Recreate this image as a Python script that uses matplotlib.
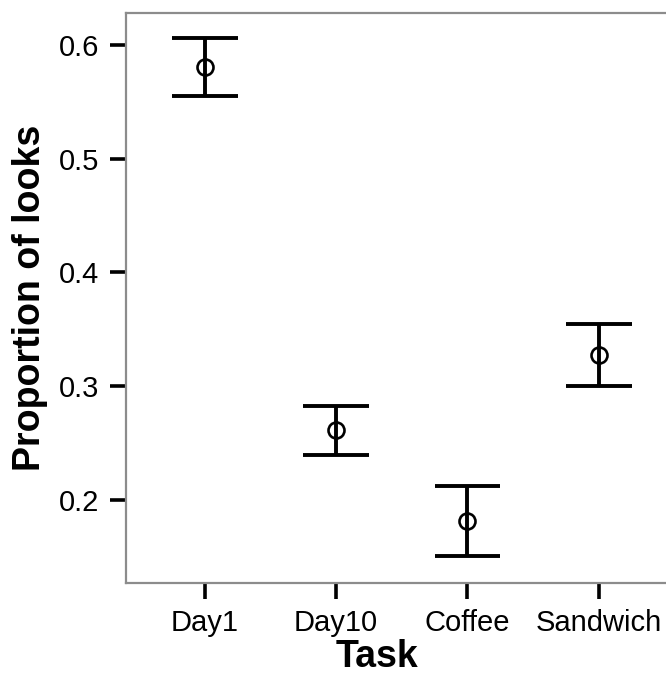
import matplotlib
matplotlib.use("Agg")
import matplotlib.pyplot as plt
import numpy as np

plt.rcParams['font.family'] = ['Liberation Sans', 'DejaVu Sans']

# Mean proportion of looks per task with lower/upper interval bounds
tasks = ["Day1", "Day10", "Coffee", "Sandwich"]
means = [0.5805, 0.2611, 0.1814, 0.3276]
lower = [0.5553, 0.2391, 0.1503, 0.3004]
upper = [0.6060, 0.2825, 0.2121, 0.3543]
yticks = [0.2, 0.3, 0.4, 0.5, 0.6]

fig = plt.figure(figsize=(6.66, 6.75), dpi=100)
ax = fig.add_axes([126 / 666, 92 / 675, 551.6 / 666, 570 / 675])

x = np.arange(1, len(tasks) + 1)
cap_half = 0.25
lw = 2.8

ax.vlines(x, lower, upper, color="black", lw=lw, zorder=2)
ax.hlines(lower, x - cap_half, x + cap_half, color="black", lw=lw, zorder=2)
ax.hlines(upper, x - cap_half, x + cap_half, color="black", lw=lw, zorder=2)
ax.plot(x, means, linestyle="none", marker="o", markersize=11.5,
        markerfacecolor="none", markeredgecolor="black", markeredgewidth=1.9,
        zorder=3)

ax.set_xlim(0.4, 4.6)
ax.set_ylim(0.127, 0.628)
ax.set_xticks(x)
ax.set_xticklabels(tasks)
ax.set_yticks(yticks)
ax.set_yticklabels([f"{v:.1f}" for v in yticks])

for side in ["left", "bottom", "top", "right"]:
    ax.spines[side].set_color("#8c8c8c")
    ax.spines[side].set_linewidth(1.6)

ax.tick_params(axis="both", which="major", length=11.5, width=2.6,
               color="black", labelsize=21, labelcolor="black")
ax.tick_params(axis="y", pad=8)
ax.tick_params(axis="x", pad=7)

ax.set_xlabel("Task", fontsize=27, fontweight="bold")
ax.set_ylabel("Proportion of looks", fontsize=27, fontweight="bold")
ax.xaxis.set_label_coords((377 - 126) / 551.6, -(657 - 583) / 570, transform=ax.transAxes)
ax.xaxis.label.set_va("center")
ax.yaxis.set_label_coords(-(126 - 30) / 551.6, 0.5, transform=ax.transAxes)
ax.yaxis.label.set_va("center")

fig.savefig("out.png", dpi=100, facecolor="white")
